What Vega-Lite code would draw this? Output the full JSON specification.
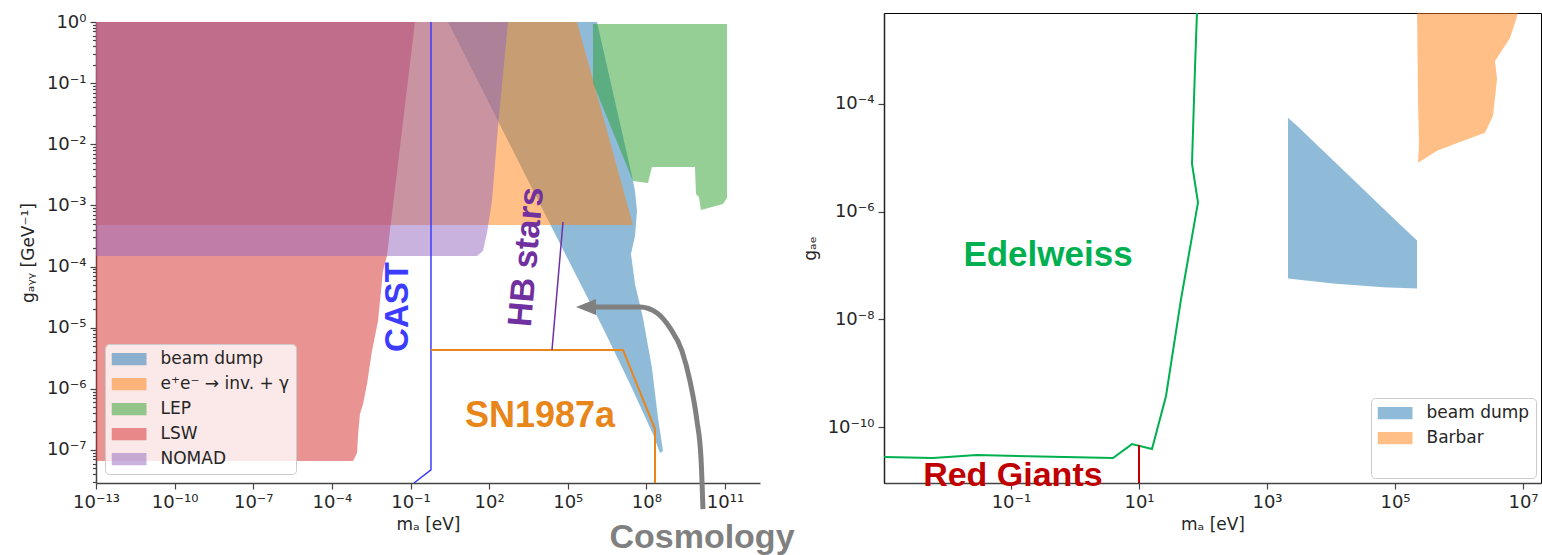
{
  "$schema": "https://vega.github.io/schema/vega-lite/v6.json",
  "padding": {"left": 19, "top": 8, "right": 0, "bottom": 0},
  "background": "white",
  "bounds": "flush",
  "spacing": 124,
  "resolve": {"scale": {"fill": "independent"}, "legend": {"fill": "independent"}},
  "config": {
    "view": {"stroke": "#000000", "strokeWidth": 1},
    "font": "DejaVu Sans",
    "axis": {"labelFont": "DejaVu Sans", "labelFontSize": 18, "labelColor": "#262626", "titleFont": "DejaVu Sans", "titleFontSize": 17, "titleFontWeight": "normal", "titleColor": "#262626", "domainColor": "#444444", "domainWidth": 1.5, "tickColor": "#444444", "tickWidth": 1.2, "tickSize": 6, "labelPadding": 4, "grid": false, "labelOverlap": false, "labelFlush": false, "labelBound": false},
    "legend": {"labelFont": "DejaVu Sans", "labelFontSize": 17, "labelColor": "#262626"}
  },
  "hconcat": [
    {
      "width": 664,
      "height": 470,
      "view": {"stroke": null},
      "encoding": {
        "x": {"field": "x", "type": "quantitative",
          "scale": {"type": "log", "domain": [1e-13, 2.16e12], "nice": false},
          "axis": {"title": "mₐ [eV]", "titlePadding": 5, "values": [1e-13, 1e-10, 1e-7, 1e-4, 0.1, 100, 1e5, 1e8, 1e11],
            "labelExpr": "'10' + replace(replace(replace(replace(replace(replace(replace(replace(replace(replace(replace(replace(''+round(log(datum.value)/LN10),'-','⁻'),'0','⁰'),'1','¹'),'1','¹'),'2','²'),'3','³'),'4','⁴'),'5','⁵'),'6','⁶'),'7','⁷'),'8','⁸'),'9','⁹')"}},
        "y": {"field": "y", "type": "quantitative",
          "scale": {"type": "log", "domain": [2.88e-8, 1], "nice": false, "range": [470, 9]},
          "axis": {"title": "gₐᵧᵧ [GeV⁻¹]", "titlePadding": 9,
            "values": [3e-8,4e-8,5e-8,6e-8,7e-8,8e-8,9e-8,1e-7,2e-7,3e-7,4e-7,5e-7,6e-7,7e-7,8e-7,9e-7,1e-6,2e-6,3e-6,4e-6,5e-6,6e-6,7e-6,8e-6,9e-6,1e-5,2e-5,3e-5,4e-5,5e-5,6e-5,7e-5,8e-5,9e-5,1e-4,2e-4,3e-4,4e-4,5e-4,6e-4,7e-4,8e-4,9e-4,1e-3,2e-3,3e-3,4e-3,5e-3,6e-3,7e-3,8e-3,9e-3,0.01,0.02,0.03,0.04,0.05,0.06,0.07,0.08,0.09,0.1,0.2,0.3,0.4,0.5,0.6,0.7,0.8,0.9,1],
            "tickSize": {"condition": {"test": "abs(log(datum.value)/LN10 - round(log(datum.value)/LN10)) < 0.001", "value": 6}, "value": 3.5},
            "labelExpr": "abs(log(datum.value)/LN10 - round(log(datum.value)/LN10)) < 0.001 ? '10' + replace(replace(replace(replace(replace(replace(replace(replace(replace(replace(replace(replace(''+round(log(datum.value)/LN10),'-','⁻'),'0','⁰'),'1','¹'),'1','¹'),'2','²'),'3','³'),'4','⁴'),'5','⁵'),'6','⁶'),'7','⁷'),'8','⁸'),'9','⁹') : ''"}}
      },
      "layer": [
        {
          "data": {"values": [
            {"g": "beam dump", "i": 0, "x": 2.69, "y": 1},
            {"g": "beam dump", "i": 1, "x": 2.1e4, "y": 4.97e-4},
            {"g": "beam dump", "i": 2, "x": 2.21e6, "y": 9.89e-6},
            {"g": "beam dump", "i": 3, "x": 2.37e7, "y": 1.2e-6},
            {"g": "beam dump", "i": 4, "x": 1.78e8, "y": 1.82e-7},
            {"g": "beam dump", "i": 5, "x": 3.3e8, "y": 8.93e-8},
            {"g": "beam dump", "i": 6, "x": 4.3e8, "y": 9.62e-8},
            {"g": "beam dump", "i": 7, "x": 2.77e8, "y": 3.33e-7},
            {"g": "beam dump", "i": 8, "x": 1.63e8, "y": 2.19e-6},
            {"g": "beam dump", "i": 9, "x": 7.41e7, "y": 1.44e-5},
            {"g": "beam dump", "i": 10, "x": 3.67e7, "y": 5.19e-5},
            {"g": "beam dump", "i": 11, "x": 2.58e7, "y": 1.6e-4},
            {"g": "beam dump", "i": 12, "x": 3.67e7, "y": 3.16e-4},
            {"g": "beam dump", "i": 13, "x": 4.38e7, "y": 8.1e-4},
            {"g": "beam dump", "i": 14, "x": 3.67e7, "y": 1.72e-3},
            {"g": "beam dump", "i": 15, "x": 2.82e7, "y": 3.03e-3},
            {"g": "beam dump", "i": 16, "x": 1.3e6, "y": 1},
            {"g": "e⁺e⁻ → inv. + γ", "i": 0, "x": 1e-13, "y": 1},
            {"g": "e⁺e⁻ → inv. + γ", "i": 1, "x": 2.25e5, "y": 1},
            {"g": "e⁺e⁻ → inv. + γ", "i": 2, "x": 3.08e7, "y": 4.79e-4},
            {"g": "e⁺e⁻ → inv. + γ", "i": 3, "x": 1e-13, "y": 4.79e-4},
            {"g": "LEP", "i": 0, "x": 9.16e5, "y": 0.927},
            {"g": "LEP", "i": 1, "x": 1.19e11, "y": 0.927},
            {"g": "LEP", "i": 2, "x": 1.19e11, "y": 1.32e-3},
            {"g": "LEP", "i": 3, "x": 8.36e10, "y": 1.05e-3},
            {"g": "LEP", "i": 4, "x": 1.21e10, "y": 8.41e-4},
            {"g": "LEP", "i": 5, "x": 1.01e10, "y": 1.37e-3},
            {"g": "LEP", "i": 6, "x": 7.8e9, "y": 1.54e-3},
            {"g": "LEP", "i": 7, "x": 7.14e9, "y": 4.25e-3},
            {"g": "LEP", "i": 8, "x": 1.63e8, "y": 4.25e-3},
            {"g": "LEP", "i": 9, "x": 1.15e8, "y": 2.33e-3},
            {"g": "LEP", "i": 10, "x": 3.08e7, "y": 2.51e-3},
            {"g": "LEP", "i": 11, "x": 9.16e5, "y": 0.1005},
            {"g": "LSW", "i": 0, "x": 1e-13, "y": 1},
            {"g": "LSW", "i": 1, "x": 0.148, "y": 1},
            {"g": "LSW", "i": 2, "x": 0.0126, "y": 1.49e-4},
            {"g": "LSW", "i": 3, "x": 8.9e-3, "y": 8.46e-5},
            {"g": "LSW", "i": 4, "x": 5.75e-3, "y": 1.29e-5},
            {"g": "LSW", "i": 5, "x": 3.39e-3, "y": 4.16e-6},
            {"g": "LSW", "i": 6, "x": 2.19e-3, "y": 1.2e-6},
            {"g": "LSW", "i": 7, "x": 1.55e-3, "y": 5.65e-7},
            {"g": "LSW", "i": 8, "x": 1.18e-3, "y": 3.88e-7},
            {"g": "LSW", "i": 9, "x": 1.0e-3, "y": 1.82e-7},
            {"g": "LSW", "i": 10, "x": 9.1e-4, "y": 8.93e-8},
            {"g": "LSW", "i": 11, "x": 6.5e-4, "y": 6.6e-8},
            {"g": "LSW", "i": 12, "x": 1e-13, "y": 6.6e-8},
            {"g": "NOMAD", "i": 0, "x": 1e-13, "y": 1},
            {"g": "NOMAD", "i": 1, "x": 525, "y": 1},
            {"g": "NOMAD", "i": 2, "x": 219, "y": 0.0199},
            {"g": "NOMAD", "i": 3, "x": 128, "y": 1.18e-3},
            {"g": "NOMAD", "i": 4, "x": 82.8, "y": 3.54e-4},
            {"g": "NOMAD", "i": 5, "x": 58.2, "y": 1.8e-4},
            {"g": "NOMAD", "i": 6, "x": 34.4, "y": 1.49e-4},
            {"g": "NOMAD", "i": 7, "x": 1e-13, "y": 1.49e-4}
          ]},
          "mark": {"type": "line", "fillOpacity": 0.5, "stroke": "transparent", "strokeWidth": 0},
          "encoding": {
            "order": {"field": "i", "type": "quantitative"},
            "fill": {"field": "g", "type": "nominal",
              "scale": {"domain": ["beam dump", "e⁺e⁻ → inv. + γ", "LEP", "LSW", "NOMAD"], "range": ["#1f77b4", "#ff7f0e", "#2ca02c", "#d62728", "#9467bd"]},
              "legend": {"title": null, "orient": "bottom-left", "offset": 9, "padding": 6.5, "fillColor": "rgba(255,255,255,0.8)", "strokeColor": "#cccccc", "cornerRadius": 4, "symbolType": "M-1,-0.35H1V0.35H-1Z", "symbolSize": 1225, "symbolOpacity": 0.5, "symbolStrokeWidth": 0, "clipHeight": 17, "labelOffset": 14, "rowPadding": 7.0, "labelFontSize": 17}}
          }
        },
        {
          "data": {"values": [
            {"i": 0, "x": 0.604, "y": 1},
            {"i": 1, "x": 0.604, "y": 4.71e-8},
            {"i": 2, "x": 0.136, "y": 2.88e-8}
          ]},
          "mark": {"type": "line", "color": "#3c3cff", "strokeWidth": 1.5},
          "encoding": {"order": {"field": "i", "type": "quantitative"}}
        },
        {
          "data": {"values": [
            {"i": 0, "x": 0.604, "y": 4.32e-6},
            {"i": 1, "x": 1.28e7, "y": 4.32e-6},
            {"i": 2, "x": 2.13e8, "y": 2.2e-7},
            {"i": 3, "x": 2.13e8, "y": 2.88e-8}
          ]},
          "mark": {"type": "line", "color": "#e8861a", "strokeWidth": 2},
          "encoding": {"order": {"field": "i", "type": "quantitative"}}
        },
        {
          "data": {"values": [
            {"i": 0, "x": 2.5e4, "y": 4.32e-6},
            {"i": 1, "x": 6.58e4, "y": 5.36e-4}
          ]},
          "mark": {"type": "line", "color": "#7030a0", "strokeWidth": 1.5},
          "encoding": {"order": {"field": "i", "type": "quantitative"}}
        },
        {
          "data": {"values": [
            {"i": 0, "x": 1.44e10, "y": 1.08e-8},
            {"i": 1, "x": 1.21e10, "y": 7.39e-8},
            {"i": 2, "x": 8.51e9, "y": 2.98e-7},
            {"i": 3, "x": 4.6e9, "y": 1.34e-6},
            {"i": 4, "x": 2.28e9, "y": 4.16e-6},
            {"i": 5, "x": 7.94e8, "y": 9.89e-6},
            {"i": 6, "x": 2.54e8, "y": 1.74e-5},
            {"i": 7, "x": 5.69e7, "y": 2.18e-5},
            {"i": 8, "x": 9.16e5, "y": 2.18e-5}
          ]},
          "mark": {"type": "line", "color": "#808080", "strokeWidth": 5, "interpolate": "monotone", "clip": false},
          "encoding": {"order": {"field": "i", "type": "quantitative"}}
        },
        {
          "data": {"values": [{"x": 4.95e5, "y": 2.18e-5}]},
          "mark": {"type": "point", "shape": "M-1,0L1,-0.8L1,0.8Z", "size": 400, "filled": true, "color": "#808080", "opacity": 1}
        },
        {
          "data": {"values": [{}]},
          "mark": {"type": "rule", "color": "#000000", "strokeWidth": 1},
          "encoding": {"x": {"datum": 1e-13, "type": "quantitative"}, "x2": {"datum": 2.16e12}, "y": {"datum": 1, "type": "quantitative"}}
        },
        {
          "data": {"values": [{}]},
          "mark": {"type": "rule", "color": "#000000", "strokeWidth": 1},
          "encoding": {"x": {"datum": 2.16e12, "type": "quantitative"}, "y": {"datum": 2.88e-8, "type": "quantitative"}, "y2": {"datum": 1}}
        },
        {
          "data": {"values": [{"label": "CAST", "x": 0.0333, "y": 2.18e-5}]},
          "mark": {"type": "text", "font": "Liberation Sans", "fontWeight": "bold", "fontSize": 33, "color": "#3c3cff", "angle": 270, "align": "center", "baseline": "middle"},
          "encoding": {"text": {"field": "label"}}
        },
        {
          "data": {"values": [{"label": "HB stars", "x": 2780, "y": 1.43e-4}]},
          "mark": {"type": "text", "font": "Liberation Sans", "fontWeight": "bold", "fontSize": 34, "color": "#7030a0", "angle": 275, "align": "center", "baseline": "middle"},
          "encoding": {"text": {"field": "label"}}
        },
        {
          "data": {"values": [{"label": "SN1987a", "x": 8710, "y": 3.6e-7}]},
          "mark": {"type": "text", "font": "Liberation Sans", "fontWeight": "bold", "fontSize": 36, "color": "#e8861a", "align": "center", "baseline": "middle"},
          "encoding": {"text": {"field": "label"}}
        },
        {
          "data": {"values": [{"label": "Cosmology", "x": 1.32e10, "y": 2.49e-9}]},
          "mark": {"type": "text", "font": "Liberation Sans", "fontWeight": "bold", "fontSize": 34, "color": "#808080", "align": "center", "baseline": "alphabetic", "clip": false},
          "encoding": {"text": {"field": "label"}}
        }
      ]
    },
    {
      "width": 657,
      "height": 470,
      "encoding": {
        "x": {"field": "x", "type": "quantitative",
          "scale": {"type": "log", "domain": [1.0375e-3, 1.91e7], "nice": false},
          "axis": {"title": "mₐ [eV]", "titlePadding": 5, "values": [0.1, 10, 1000, 1e5, 1e7],
            "labelExpr": "'10' + replace(replace(replace(replace(replace(replace(replace(replace(replace(replace(replace(replace(''+round(log(datum.value)/LN10),'-','⁻'),'0','⁰'),'1','¹'),'1','¹'),'2','²'),'3','³'),'4','⁴'),'5','⁵'),'6','⁶'),'7','⁷'),'8','⁸'),'9','⁹')"}},
        "y": {"field": "y", "type": "quantitative",
          "scale": {"type": "log", "domain": [9.18e-12, 4.84e-3], "nice": false},
          "axis": {"title": "gₐₑ", "titlePadding": 8, "domainColor": "#222222", "values": [1e-10, 1e-8, 1e-6, 1e-4],
            "labelExpr": "'10' + replace(replace(replace(replace(replace(replace(replace(replace(replace(replace(replace(replace(''+round(log(datum.value)/LN10),'-','⁻'),'0','⁰'),'1','¹'),'1','¹'),'2','²'),'3','³'),'4','⁴'),'5','⁵'),'6','⁶'),'7','⁷'),'8','⁸'),'9','⁹')"}}
      },
      "layer": [
        {
          "data": {"values": [
            {"g": "beam dump", "i": 0, "x": 2130, "y": 5.51e-5},
            {"g": "beam dump", "i": 1, "x": 2944, "y": 3.92e-5},
            {"g": "beam dump", "i": 2, "x": 1.11e5, "y": 6.25e-7},
            {"g": "beam dump", "i": 3, "x": 2.21e5, "y": 2.9e-7},
            {"g": "beam dump", "i": 4, "x": 2.21e5, "y": 3.75e-8},
            {"g": "beam dump", "i": 5, "x": 6.5e4, "y": 3.92e-8},
            {"g": "beam dump", "i": 6, "x": 1.07e4, "y": 4.64e-8},
            {"g": "beam dump", "i": 7, "x": 2130, "y": 5.74e-8},
            {"g": "Barbar", "i": 0, "x": 2.21e5, "y": 4.84e-3},
            {"g": "Barbar", "i": 1, "x": 8.36e6, "y": 4.84e-3},
            {"g": "Barbar", "i": 2, "x": 6.27e6, "y": 1.67e-3},
            {"g": "Barbar", "i": 3, "x": 3.65e6, "y": 6.25e-4},
            {"g": "Barbar", "i": 4, "x": 3.93e6, "y": 2.9e-4},
            {"g": "Barbar", "i": 5, "x": 3.4e6, "y": 6e-5},
            {"g": "Barbar", "i": 6, "x": 2.55e6, "y": 2.9e-5},
            {"g": "Barbar", "i": 7, "x": 1.16e6, "y": 2.06e-5},
            {"g": "Barbar", "i": 8, "x": 4.53e5, "y": 1.35e-5},
            {"g": "Barbar", "i": 9, "x": 2.29e5, "y": 8.07e-6},
            {"g": "Barbar", "i": 10, "x": 2.37e5, "y": 1.82e-5},
            {"g": "Barbar", "i": 11, "x": 2.29e5, "y": 1.14e-4}
          ]},
          "mark": {"type": "line", "fillOpacity": 0.5, "stroke": "transparent", "strokeWidth": 0},
          "encoding": {
            "order": {"field": "i", "type": "quantitative"},
            "fill": {"field": "g", "type": "nominal",
              "scale": {"domain": ["beam dump", "Barbar", " "], "range": ["#1f77b4", "#ff7f0e", "rgba(0,0,0,0)"]},
              "legend": {"title": null, "orient": "bottom-right", "offset": 5, "padding": 6.5, "fillColor": "rgba(255,255,255,0.8)", "strokeColor": "#cccccc", "cornerRadius": 4, "symbolType": "M-1,-0.35H1V0.35H-1Z", "symbolSize": 1225, "symbolOpacity": 0.5, "symbolStrokeWidth": 0, "clipHeight": 17, "labelOffset": 14, "rowPadding": 7.0, "labelFontSize": 17}}
          }
        },
        {
          "data": {"values": [
            {"i": 0, "x": 1.04e-3, "y": 2.78e-11},
            {"i": 1, "x": 6.04e-3, "y": 2.67e-11},
            {"i": 2, "x": 0.0294, "y": 3.03e-11},
            {"i": 3, "x": 3.92, "y": 2.67e-11},
            {"i": 4, "x": 7.78, "y": 4.84e-11},
            {"i": 5, "x": 15.96, "y": 3.92e-11},
            {"i": 6, "x": 26.4, "y": 3.75e-10},
            {"i": 7, "x": 45.3, "y": 2.34e-8},
            {"i": 8, "x": 83.5, "y": 1.47e-6},
            {"i": 9, "x": 67.3, "y": 7.74e-6},
            {"i": 10, "x": 75.0, "y": 4.64e-4},
            {"i": 11, "x": 80.5, "y": 4.84e-3}
          ]},
          "mark": {"type": "line", "color": "#00b050", "strokeWidth": 2},
          "encoding": {"order": {"field": "i", "type": "quantitative"}}
        },
        {
          "data": {"values": [
            {"i": 0, "x": 10, "y": 9.18e-12},
            {"i": 1, "x": 10, "y": 4.64e-11}
          ]},
          "mark": {"type": "line", "color": "#c00000", "strokeWidth": 2},
          "encoding": {"order": {"field": "i", "type": "quantitative"}}
        },
        {
          "data": {"values": [{"label": "Edelweiss", "x": 0.379, "y": 1.53e-7}]},
          "mark": {"type": "text", "font": "Liberation Sans", "fontWeight": "bold", "fontSize": 35, "color": "#00b050", "align": "center", "baseline": "middle"},
          "encoding": {"text": {"field": "label"}}
        },
        {
          "data": {"values": [{"label": "Red Giants", "x": 0.107, "y": 1.24e-11}]},
          "mark": {"type": "text", "font": "Liberation Sans", "fontWeight": "bold", "fontSize": 34, "color": "#c00000", "align": "center", "baseline": "middle"},
          "encoding": {"text": {"field": "label"}}
        }
      ]
    }
  ]
}
